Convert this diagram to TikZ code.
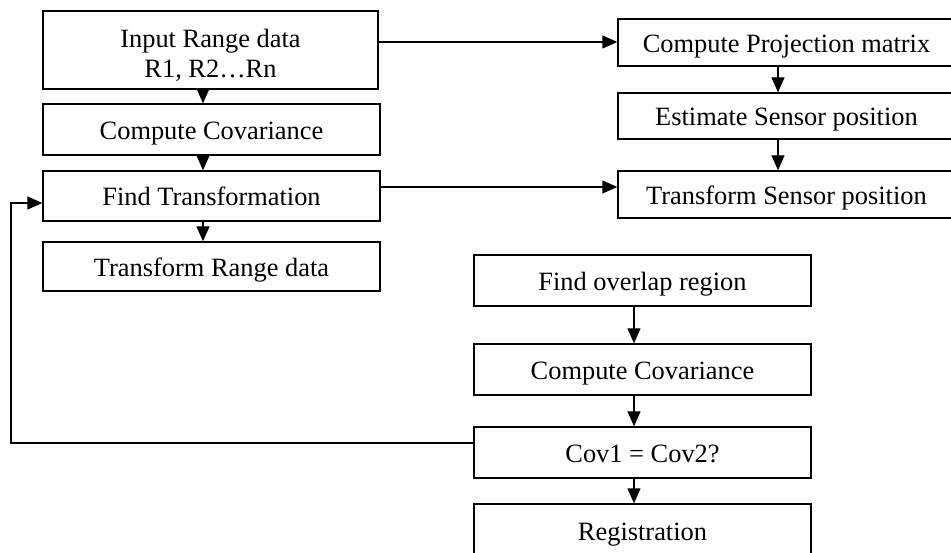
\documentclass[tikz,border=0pt]{standalone}
\usepackage{fontspec}
\setmainfont{Liberation Serif}
\usetikzlibrary{arrows.meta}
\begin{document}
\begin{tikzpicture}[x=1pt,y=-1pt,
  box/.style={draw, line width=1.4pt, minimum width=337pt, inner sep=0pt,
    font=\fontsize{26.4}{30}\selectfont, text height=20pt, text depth=0pt},
  txt/.style={inner sep=0pt, align=center, font=\fontsize{26.4}{30}\selectfont},
  conn/.style={line width=1.4pt, -{Triangle[length=15pt,width=13pt]}}]
\useasboundingbox (0,0) rectangle (951,553);
\clip (0,0) rectangle (951,553);
% left column
\node[box, minimum width=335pt, minimum height=78pt] (in) at (210.5,50) {};
\node[txt] (intxt) at (210.5,55) {Input Range data\\R1, R2…Rn};
\node[box, minimum height=51pt] (covA) at (211.5,129.5) {Compute Covariance};
\node[box, minimum height=50pt] (ft) at (211.5,196) {Find Transformation};
\node[box, minimum height=49pt] (trd) at (211.5,266.5) {Transform Range data};
% right column
\node[box, minimum height=47pt] (cpm) at (786.5,42.5) {Compute Projection matrix};
\node[box, minimum height=46pt] (esp) at (786.5,116) {Estimate Sensor position};
\node[box, minimum height=47pt] (tsp) at (786.5,194.5) {Transform Sensor position};
% bottom column
\node[box, minimum height=51pt] (fo) at (642.5,280.5) {Find overlap region};
\node[box, minimum height=51pt] (covB) at (642.5,369.5) {Compute Covariance};
\node[box, minimum height=51pt] (eq) at (642.5,452.5) {Cov1 = Cov2?};
\node[box, minimum height=52pt] (reg) at (642.5,530) {Registration};
% helper coordinates
\coordinate (lx) at (203,0);
\coordinate (rx) at (778,0);
\coordinate (bx) at (634,0);
\coordinate (fbx) at (11,0);
\coordinate (h1) at (0,42);
\coordinate (h2) at (0,187);
\coordinate (fb) at (0,443);
\coordinate (fin) at (0,203);
% connectors
\draw[conn] (in.south -| lx) -- (covA.north -| lx);
\draw[conn] (covA.south -| lx) -- (ft.north -| lx);
\draw[conn] (ft.south -| lx) -- (trd.north -| lx);
\draw[conn] (in.east |- h1) -- (cpm.west |- h1);
\draw[conn] (ft.east |- h2) -- (tsp.west |- h2);
\draw[conn] (cpm.south -| rx) -- (esp.north -| rx);
\draw[conn] (esp.south -| rx) -- (tsp.north -| rx);
\draw[conn] (fo.south -| bx) -- (covB.north -| bx);
\draw[conn] (covB.south -| bx) -- (eq.north -| bx);
\draw[conn] (eq.south -| bx) -- (reg.north -| bx);
\draw[conn] (eq.west |- fb) -- (fbx |- fb) -- (fbx |- fin) -- (ft.west |- fin);
\end{tikzpicture}
\end{document}
